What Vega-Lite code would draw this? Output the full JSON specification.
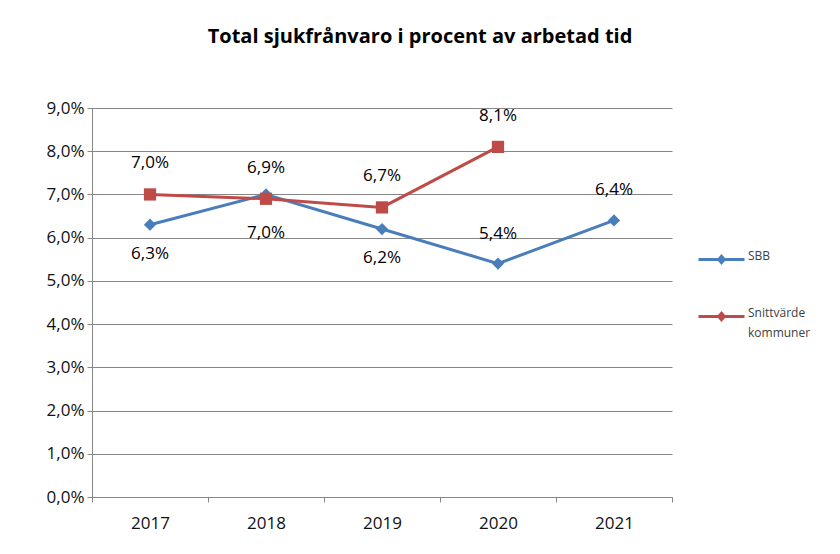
{
  "$schema": "https://vega.github.io/schema/vega-lite/v6.json",
  "width": 580,
  "height": 389,
  "autosize": {"type": "none"},
  "padding": {"left": 92, "top": 108, "right": 168, "bottom": 57},
  "background": "white",
  "title": {
    "text": "Total sjukfrånvaro i procent av arbetad tid",
    "font": "Open Sans",
    "fontSize": 20,
    "fontWeight": "bold",
    "color": "#000000",
    "offset": 52,
    "dx": 38,
    "anchor": "middle"
  },
  "config": {
    "locale": {
      "number": {"decimal": ",", "thousands": " ", "grouping": [3], "currency": ["", " kr"]}
    },
    "view": {"stroke": null},
    "axis": {"labelFont": "Open Sans", "labelFontSize": 17, "labelColor": "#111111"}
  },
  "data": {
    "values": [
      {"year": "2017", "series": "SBB", "value": 0.063},
      {"year": "2018", "series": "SBB", "value": 0.070},
      {"year": "2019", "series": "SBB", "value": 0.062},
      {"year": "2020", "series": "SBB", "value": 0.054},
      {"year": "2021", "series": "SBB", "value": 0.064},
      {"year": "2017", "series": "Snittvärde kommuner", "value": 0.070},
      {"year": "2018", "series": "Snittvärde kommuner", "value": 0.069},
      {"year": "2019", "series": "Snittvärde kommuner", "value": 0.067},
      {"year": "2020", "series": "Snittvärde kommuner", "value": 0.081}
    ]
  },
  "encoding": {
    "x": {
      "field": "year",
      "type": "ordinal",
      "title": null,
      "axis": {
        "labelAngle": 0,
        "tickBand": "extent",
        "domainColor": "#868686",
        "tickColor": "#868686",
        "tickSize": 5,
        "labelPadding": 13,
        "grid": false
      }
    },
    "y": {
      "field": "value",
      "type": "quantitative",
      "title": null,
      "scale": {"domain": [0, 0.09]},
      "axis": {
        "values": [0, 0.01, 0.02, 0.03, 0.04, 0.05, 0.06, 0.07, 0.08, 0.09],
        "format": ".1%",
        "grid": true,
        "gridColor": "#868686",
        "gridWidth": 1,
        "domainColor": "#868686",
        "tickColor": "#868686",
        "tickSize": 5,
        "labelPadding": 3
      }
    }
  },
  "layer": [
    {
      "mark": {"type": "line", "strokeWidth": 3},
      "encoding": {
        "color": {
          "field": "series",
          "type": "nominal",
          "scale": {"domain": ["SBB", "Snittvärde kommuner"], "range": ["#4A7EBB", "#BE4B48"]},
          "legend": {
            "title": null,
            "orient": "none",
            "legendX": 605,
            "legendY": 127,
            "padding": 0,
            "labelFont": "Open Sans",
            "labelFontSize": 12,
            "labelColor": "#404040",
            "labelOffset": 2,
            "labelBaseline": "top",
            "rowPadding": 23,
            "symbolType": "M-1,0L1,0M0,-0.14L0.12,0L0,0.14L-0.12,0Z",
            "symbolSize": 2116,
            "symbolStrokeWidth": 3,
            "labelExpr": "datum.label == 'Snittvärde kommuner' ? ['Snittvärde', 'kommuner'] : datum.label",
            "encoding": {
              "labels": {"lineHeight": {"value": 20}, "dy": {"value": -9}}
            }
          }
        }
      }
    },
    {
      "transform": [{"filter": "datum.series == 'SBB'"}],
      "mark": {"type": "point", "shape": "diamond", "filled": true, "opacity": 1, "size": 150},
      "encoding": {"color": {"field": "series", "type": "nominal"}}
    },
    {
      "transform": [{"filter": "datum.series == 'Snittvärde kommuner'"}],
      "mark": {"type": "point", "shape": "square", "filled": true, "opacity": 1, "size": 150},
      "encoding": {"color": {"field": "series", "type": "nominal"}}
    },
    {
      "transform": [{"filter": "datum.series == 'SBB' && (datum.year == '2017' || datum.year == '2019')"}],
      "mark": {"type": "text", "font": "Open Sans", "fontSize": 17, "color": "#000000", "dy": 29},
      "encoding": {"text": {"field": "value", "type": "quantitative", "format": ".1%"}}
    },
    {
      "transform": [{"filter": "datum.series == 'SBB' && datum.year == '2018'"}],
      "mark": {"type": "text", "font": "Open Sans", "fontSize": 17, "color": "#000000", "dy": 39},
      "encoding": {"text": {"field": "value", "type": "quantitative", "format": ".1%"}}
    },
    {
      "transform": [{"filter": "datum.series == 'SBB' && (datum.year == '2020' || datum.year == '2021')"}],
      "mark": {"type": "text", "font": "Open Sans", "fontSize": 17, "color": "#000000", "dy": -30},
      "encoding": {"text": {"field": "value", "type": "quantitative", "format": ".1%"}}
    },
    {
      "transform": [{"filter": "datum.series == 'Snittvärde kommuner'"}],
      "mark": {"type": "text", "font": "Open Sans", "fontSize": 17, "color": "#000000", "dy": -31},
      "encoding": {"text": {"field": "value", "type": "quantitative", "format": ".1%"}}
    }
  ]
}
